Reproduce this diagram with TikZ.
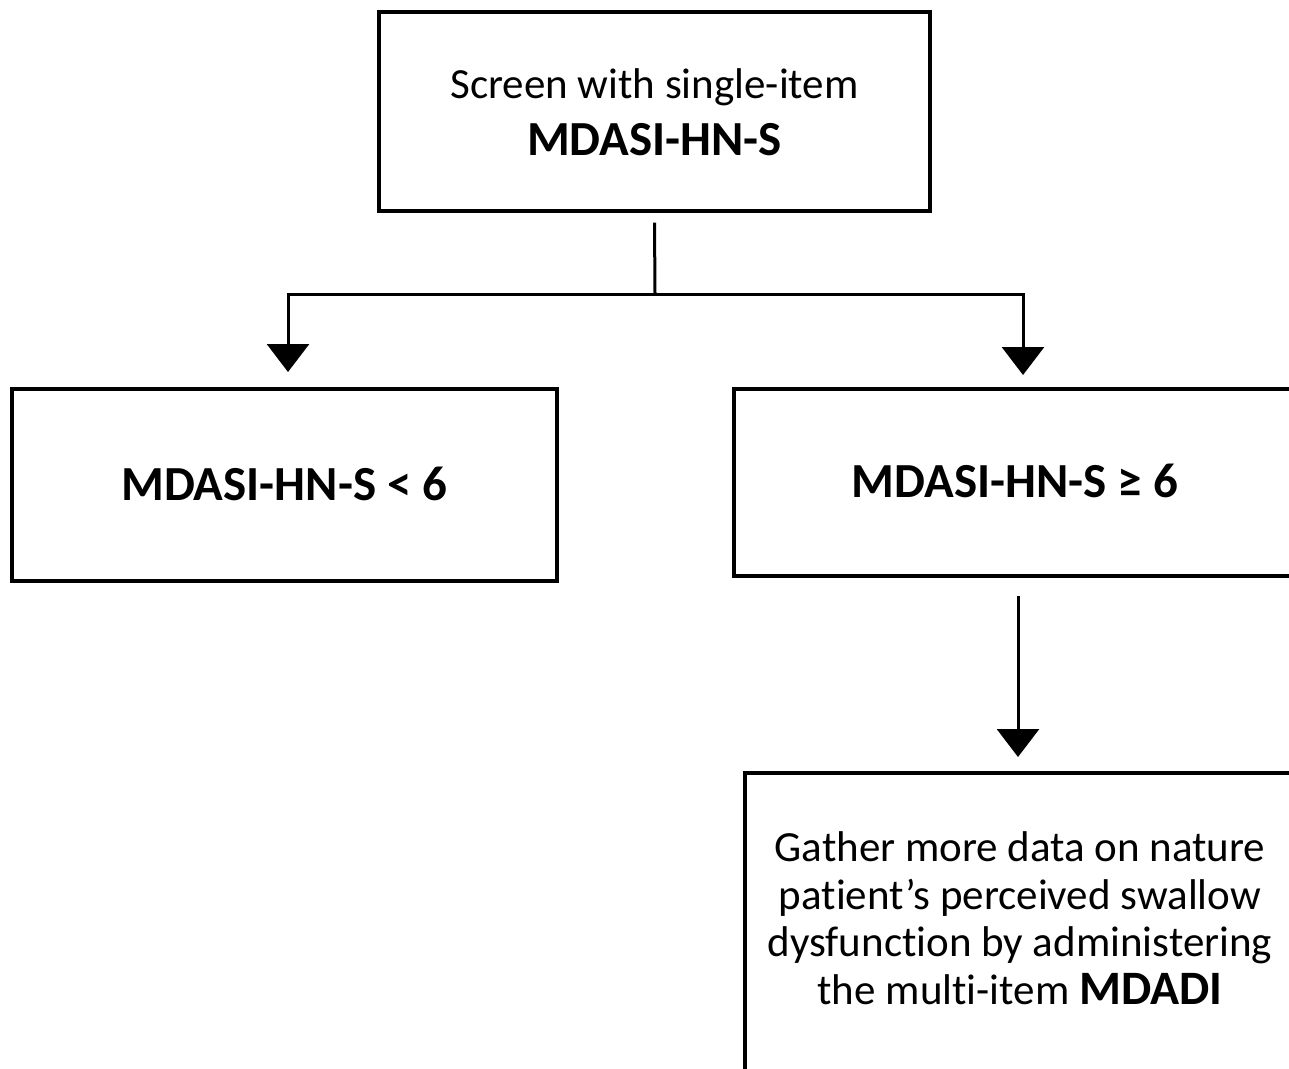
\documentclass[tikz,border=0pt]{standalone}
\usepackage{fontspec}
\setmainfont{Carlito}[Ligatures=CommonOff]
\usetikzlibrary{arrows.meta}
\begin{document}
\begin{tikzpicture}[x=1pt,y=-1pt,
  box/.style={draw=black,line width=3.4pt,fill=none,inner sep=0pt},
  conn/.style={draw=black,line width=3pt},
  tip/.style={-{Triangle[width=42pt,length=28pt]}},
  lbl/.style={align=center,inner sep=0pt}]
\useasboundingbox (0,0) rectangle (1289,1068);
\clip (0,0) rectangle (1289,1068);
\fill[white] (0,0) rectangle (1289,1068);
% boxes
\node[box,minimum width=551pt,minimum height=199pt] (top) at (654.5,111.5) {};
\node[lbl,font=\fontsize{43}{57}\selectfont] (toptext) at (654.5,112) {Screen with single-item\\ \fontsize{49}{57}\selectfont\bfseries MDASI-HN-S};
\node[box,minimum width=545pt,minimum height=192pt] (left) at (284.5,485) {};
\node[lbl,font=\fontsize{49}{56}\selectfont\bfseries] (lefttext) at (284.5,484) {MDASI-HN-S < 6};
\node[box,minimum width=562pt,minimum height=187pt] (right) at (1015,482.5) {};
\node[lbl,font=\fontsize{49}{56}\selectfont\bfseries] (righttext) at (1015,481) {MDASI-HN-S ≥ 6};
\node[box,minimum width=550pt,minimum height=400pt] (gather) at (1020,973) {};
\node[lbl,font=\fontsize{43}{47.5}\selectfont] (gathertext) at (1020,918) {Gather more data on nature\\ patient’s perceived swallow\\ dysfunction by administering\\ the multi-item {\fontsize{48}{47.5}\selectfont\bfseries MDADI}};
% connectors
\coordinate (j) at (655,294);
\coordinate (lt) at (288,372);
\coordinate (rt) at (1023,375);
\coordinate (ds) at (1018,596);
\coordinate (dt) at (1018,757);
\draw[conn] (top.south) ++(0,10) -- (j);
\draw[conn,tip] (j) -| (lt);
\draw[conn,tip] (j) -| (rt);
\draw[conn,tip] (ds) -- (dt);
\end{tikzpicture}
\end{document}
